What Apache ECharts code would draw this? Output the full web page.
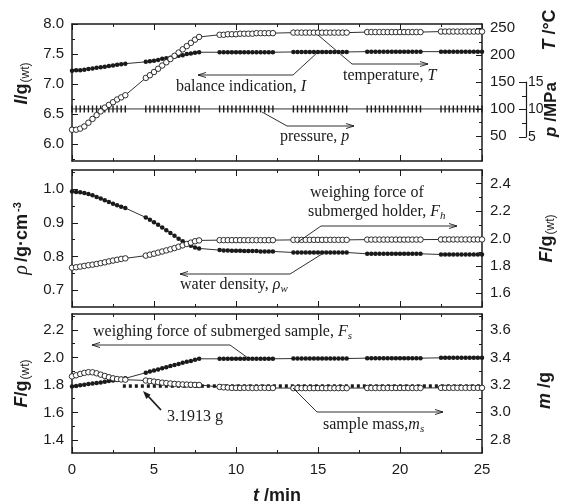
<!DOCTYPE html>
<html>
<head>
<meta charset="utf-8">
<script src="https://cdn.jsdelivr.net/npm/echarts@6.0.0/dist/echarts.min.js"></script>
<style>
html, body { margin: 0; padding: 0; background: #fff; }
#chart { width: 565px; height: 504px; }
</style>
</head>
<body>
<div id="chart"></div>
<script>
// sampling times (min), readings come in bursts with gaps between them
const times = [
  0, 0.25, 0.5, 0.75, 1, 1.25, 1.5, 1.75, 2, 2.25, 2.5, 2.75, 3, 3.25,
  4.5, 4.75, 5, 5.25, 5.5, 5.75, 6, 6.25, 6.5, 6.75, 7, 7.25, 7.5, 7.75,
  9, 9.25, 9.5, 9.75, 10, 10.25, 10.5, 10.75, 11, 11.25, 11.5, 11.75, 12, 12.25,
  13.5, 13.75, 14, 14.25, 14.5, 14.75, 15, 15.25, 15.5, 15.75, 16, 16.25, 16.5, 16.75,
  18, 18.25, 18.5, 18.75, 19, 19.25, 19.5, 19.75, 20, 20.25, 20.5, 20.75, 21, 21.25,
  22.5, 22.75, 23, 23.25, 23.5, 23.75, 24, 24.25, 24.5, 24.75, 25
]
// top panel
const balanceI = [
  7.22, 7.23, 7.23, 7.24, 7.25, 7.26, 7.27, 7.28, 7.29, 7.30, 7.31, 7.32, 7.33, 7.34,
  7.37, 7.38, 7.39, 7.40, 7.42, 7.43, 7.44, 7.46, 7.47, 7.48, 7.50, 7.51, 7.52, 7.53,
  7.53, 7.53, 7.53, 7.53, 7.53, 7.53, 7.53, 7.53, 7.53, 7.53, 7.53, 7.53, 7.53, 7.53,
  7.535, 7.535, 7.535, 7.535, 7.535, 7.535, 7.535, 7.535, 7.535, 7.535, 7.535, 7.535, 7.535, 7.535,
  7.54, 7.54, 7.54, 7.54, 7.54, 7.54, 7.54, 7.54, 7.54, 7.54, 7.54, 7.54, 7.54, 7.54,
  7.54, 7.54, 7.54, 7.54, 7.54, 7.54, 7.54, 7.54, 7.54, 7.54, 7.54
]
const temperatureT = [
  62, 62, 64, 68, 75, 82, 89, 96, 103, 108, 113, 118, 122, 126,
  158, 163, 169, 175, 181, 187, 193, 199, 205, 211, 217, 223, 229, 234,
  238, 238, 239, 239, 239, 240, 240, 240, 240, 241, 241, 241, 241, 241,
  242, 242, 242, 242, 242, 242, 242, 242, 242, 242, 242, 242, 242, 242,
  243, 243, 243, 243, 243, 243, 243, 243, 243, 243, 243, 243, 243, 243,
  244, 244, 244, 244, 244, 244, 244, 244, 244, 244, 244
]
const pressureP = [
  10.1, 10.1, 10.1, 10.1, 10.1, 10.1, 10.1, 10.1, 10.1, 10.1, 10.1, 10.1, 10.1, 10.1,
  10.1, 10.1, 10.1, 10.1, 10.1, 10.1, 10.1, 10.1, 10.1, 10.1, 10.1, 10.1, 10.1, 10.1,
  10.1, 10.1, 10.1, 10.1, 10.1, 10.1, 10.1, 10.1, 10.1, 10.1, 10.1, 10.1, 10.1, 10.1,
  10.1, 10.1, 10.1, 10.1, 10.1, 10.1, 10.1, 10.1, 10.1, 10.1, 10.1, 10.1, 10.1, 10.1,
  10.1, 10.1, 10.1, 10.1, 10.1, 10.1, 10.1, 10.1, 10.1, 10.1, 10.1, 10.1, 10.1, 10.1,
  10.1, 10.1, 10.1, 10.1, 10.1, 10.1, 10.1, 10.1, 10.1, 10.1, 10.1
]
// middle panel
const densityRho = [
  0.993, 0.992, 0.991, 0.989, 0.986, 0.982, 0.977, 0.972, 0.967, 0.962, 0.957, 0.952, 0.948, 0.944,
  0.916, 0.909, 0.902, 0.894, 0.886, 0.878, 0.870, 0.862, 0.853, 0.845, 0.838, 0.832, 0.827, 0.824,
  0.819, 0.818, 0.818, 0.817, 0.817, 0.817, 0.816, 0.816, 0.816, 0.816, 0.815, 0.815, 0.815, 0.815,
  0.812, 0.812, 0.812, 0.812, 0.812, 0.812, 0.812, 0.812, 0.812, 0.812, 0.812, 0.812, 0.812, 0.812,
  0.808, 0.808, 0.808, 0.808, 0.808, 0.808, 0.808, 0.808, 0.808, 0.808, 0.808, 0.808, 0.808, 0.808,
  0.806, 0.806, 0.806, 0.806, 0.806, 0.806, 0.806, 0.806, 0.806, 0.806, 0.806
]
const holderFh = [
  1.787, 1.790, 1.795, 1.800, 1.805, 1.809, 1.814, 1.820, 1.826, 1.833, 1.839, 1.845, 1.851, 1.855,
  1.875, 1.882, 1.889, 1.897, 1.905, 1.913, 1.921, 1.930, 1.940, 1.950, 1.960, 1.970, 1.980, 1.986,
  1.988, 1.988, 1.988, 1.988, 1.988, 1.988, 1.988, 1.988, 1.988, 1.988, 1.988, 1.988, 1.988, 1.988,
  1.990, 1.990, 1.990, 1.990, 1.990, 1.990, 1.990, 1.990, 1.990, 1.990, 1.990, 1.990, 1.990, 1.990,
  1.992, 1.992, 1.992, 1.992, 1.992, 1.992, 1.992, 1.992, 1.992, 1.992, 1.992, 1.992, 1.992, 1.992,
  1.993, 1.993, 1.993, 1.993, 1.993, 1.993, 1.993, 1.993, 1.993, 1.993, 1.993
]
// bottom panel
const sampleFs = [
  1.788, 1.792, 1.797, 1.802, 1.806, 1.810, 1.814, 1.818, 1.823, 1.828, 1.833, 1.838, 1.843, 1.848,
  1.889, 1.897, 1.905, 1.913, 1.921, 1.929, 1.937, 1.945, 1.953, 1.961, 1.968, 1.975, 1.983, 1.990,
  1.990, 1.990, 1.990, 1.990, 1.990, 1.990, 1.990, 1.990, 1.990, 1.990, 1.990, 1.990, 1.990, 1.990,
  1.992, 1.992, 1.992, 1.992, 1.992, 1.992, 1.992, 1.992, 1.992, 1.992, 1.992, 1.992, 1.992, 1.992,
  1.995, 1.995, 1.995, 1.995, 1.995, 1.995, 1.995, 1.995, 1.995, 1.995, 1.995, 1.995, 1.995, 1.995,
  1.997, 1.997, 1.997, 1.997, 1.997, 1.997, 1.997, 1.997, 1.997, 1.997, 1.997
]
const sampleMs = [
  3.262, 3.270, 3.280, 3.288, 3.293, 3.292, 3.285, 3.275, 3.265, 3.256, 3.248, 3.243, 3.240, 3.238,
  3.232, 3.228, 3.224, 3.220, 3.216, 3.213, 3.210, 3.207, 3.205, 3.203, 3.202, 3.201, 3.200, 3.199,
  3.185, 3.182, 3.180, 3.178, 3.178, 3.177, 3.178, 3.178, 3.177, 3.177, 3.178, 3.178, 3.177, 3.177,
  3.176, 3.176, 3.176, 3.176, 3.176, 3.176, 3.176, 3.176, 3.176, 3.176, 3.176, 3.176, 3.176, 3.176,
  3.177, 3.177, 3.177, 3.177, 3.177, 3.177, 3.177, 3.177, 3.177, 3.177, 3.177, 3.177, 3.177, 3.177,
  3.178, 3.178, 3.178, 3.178, 3.178, 3.178, 3.178, 3.178, 3.178, 3.178, 3.178
]
const refTimes = [3.1, 25]
const refMass = [3.1913, 3.1913]

// tick values
const iTicks = [6.0, 6.5, 7.0, 7.5, 8.0]
const iMinor = [5.75, 6.25, 6.75, 7.25, 7.75]
const tTicks = [50, 100, 150, 200, 250]
const tMinor = [25, 75, 125, 175, 225]
const rhoTicks = [0.7, 0.8, 0.9, 1.0]
const rhoMinor = [0.75, 0.85, 0.95, 1.05]
const fhTicks = [1.6, 1.8, 2.0, 2.2, 2.4]
const fhMinor = [1.7, 1.9, 2.1, 2.3]
const fsTicks = [1.4, 1.6, 1.8, 2.0, 2.2]
const fsMinor = [1.5, 1.7, 1.9, 2.1, 2.3]
const mTicks = [2.8, 3.0, 3.2, 3.4, 3.6]
const mMinor = [2.9, 3.1, 3.3, 3.5, 3.7]

const ink = '#1a1a1a'
const sans = 'Liberation Sans, Arial, sans-serif'
const serif = 'Liberation Serif, Times New Roman, serif'
const L = 72
const R = 83
const panels = [
  { top: 24, height: 137 },
  { top: 170, height: 137 },
  { top: 314, height: 139 }
]

const pts = (xs, ys) => xs.map((x, i) => [x, ys[i]])

function xAx(grid, position, opts) {
  return Object.assign({
    type: 'value', gridIndex: grid, position, min: 0, max: 25, interval: 5,
    axisLine: { show: true, onZero: false, lineStyle: { color: ink, width: 1.5 } },
    axisTick: { inside: true, length: 6, lineStyle: { color: ink, width: 1 } },
    minorTick: { show: true, splitNumber: 2, length: 3, lineStyle: { color: ink, width: 1 } },
    axisLabel: { show: false },
    splitLine: { show: false }
  }, opts || {})
}

function yAx(grid, position, min, max, ticks, digits, opts) {
  return Object.assign({
    type: 'value', gridIndex: grid, position, min, max,
    axisLine: { show: true, onZero: false, lineStyle: { color: ink, width: 1.5 } },
    axisTick: { inside: true, length: 6, customValues: ticks, lineStyle: { color: ink, width: 1 } },
    axisLabel: {
      customValues: ticks, margin: 8, fontSize: 15, fontFamily: sans, color: ink,
      formatter: v => Number(v).toFixed(digits)
    },
    splitLine: { show: false }
  }, opts || {})
}

function yMinor(grid, position, min, max, ticks) {
  return {
    type: 'value', gridIndex: grid, position, min, max,
    axisLine: { show: false },
    axisTick: { inside: true, length: 3, customValues: ticks, lineStyle: { color: ink, width: 1 } },
    axisLabel: { show: false },
    splitLine: { show: false }
  }
}

const titleRich = {
  bi: { fontFamily: sans, fontSize: 18, fontWeight: 'bold', fontStyle: 'italic', color: ink },
  b: { fontFamily: sans, fontSize: 18, fontWeight: 'bold', color: ink },
  sub: { fontFamily: sans, fontSize: 12, color: ink, padding: [7, 0, 0, 1] },
  sup: { fontFamily: sans, fontSize: 11, fontWeight: 'bold', color: ink, padding: [0, 0, 8, 2] },
  g: { fontFamily: serif, fontSize: 20, fontStyle: 'italic', color: ink }
}

function filled(name, xi, yi, data) {
  return {
    name, type: 'line', xAxisIndex: xi, yAxisIndex: yi, data,
    symbol: 'circle', symbolSize: 4.5,
    itemStyle: { color: ink },
    lineStyle: { color: ink, width: 0.9 },
    animation: false, z: 3
  }
}
function hollow(name, xi, yi, data) {
  return {
    name, type: 'line', xAxisIndex: xi, yAxisIndex: yi, data,
    symbol: 'circle', symbolSize: 5.5,
    itemStyle: { color: '#fff', borderColor: ink, borderWidth: 0.9 },
    lineStyle: { color: ink, width: 0.9 },
    animation: false, z: 4
  }
}

// annotation helpers
const noteRich = {
  n: { fontFamily: serif, fontSize: 16, fill: ink },
  i: { fontFamily: serif, fontSize: 16, fontStyle: 'italic', fill: ink },
  s: { fontFamily: serif, fontSize: 11, fontStyle: 'italic', fill: ink, padding: [9, 0, 0, 0] }
}
function note(x, y, text) {
  return {
    type: 'text', x, y, z: 50,
    style: { text, fontFamily: serif, fontSize: 16, fill: ink, verticalAlign: 'middle', rich: noteRich }
  }
}
function line(points, w) {
  return { type: 'polyline', z: 50, shape: { points }, style: { stroke: ink, lineWidth: w || 0.9, fill: null } }
}
const headL = (x, y) => line([[x + 8, y - 2.5], [x, y], [x + 8, y + 2.5]])
const headR = (x, y) => line([[x - 8, y - 2.5], [x, y], [x - 8, y + 2.5]])

const graphics = [
  note(176, 87, '{n|balance indication,}{i| I}'),
  line([[318, 52], [293, 75], [198, 75]]), headL(198, 75),
  note(343, 76, '{n|temperature, }{i|T}'),
  line([[318, 35], [352, 64], [428, 64]]), headR(428, 64),
  note(280, 137, '{n|pressure, }{i|p}'),
  line([[262, 112], [287, 126], [354, 126]]), headR(354, 126),
  note(310, 193, '{n|weighing force of}'),
  note(308, 212, '{n|submerged holder, }{i|F}{s|h}'),
  line([[298, 242], [321, 226], [457, 226]]), headR(457, 226),
  note(180, 285, '{n|water density, }{i|ρ}{s|w}'),
  line([[322, 254], [290, 274], [180, 274]]), headL(180, 274),
  note(93, 332, '{n|weighing force of submerged sample, }{i|F}{s|s}'),
  line([[248, 358], [230, 345], [92, 345]]), headL(92, 345),
  note(167, 417, '{n|3.1913 g}'),
  line([[161, 410], [147, 395]], 1.8),
  { type: 'polygon', z: 50, shape: { points: [[143, 391], [150.7, 394.7], [146.3, 398.9]] }, style: { fill: ink } },
  note(323, 425, '{n|sample mass,}{i|m}{s|s}'),
  line([[293, 388], [317, 412], [443, 412]]), headR(443, 412),
  {
    type: 'text', x: 550, y: 30, rotation: Math.PI / 2, z: 50,
    style: {
      text: '{bi|T}{b| /°C}', align: 'center', verticalAlign: 'middle',
      rich: {
        bi: { fontFamily: sans, fontSize: 18, fontWeight: 'bold', fontStyle: 'italic', fill: ink },
        b: { fontFamily: sans, fontSize: 18, fontWeight: 'bold', fill: ink }
      }
    }
  }
]

const grids = panels.map(p => ({ left: L, right: R, top: p.top, height: p.height, outerBoundsMode: 'none' }))
grids.push({ left: L, right: R, top: 82, height: 55, outerBoundsMode: 'none' }) // 3: pressure scale
panels.forEach(p => grids.push({ left: L, right: R, top: p.top, height: p.height, outerBoundsMode: 'none' })) // 4-6: minor ticks

const option = {
  backgroundColor: '#fff',
  animation: false,
  grid: grids,
  xAxis: [
    xAx(0, 'bottom'), xAx(0, 'top'),
    xAx(1, 'bottom'), xAx(1, 'top'),
    xAx(2, 'bottom', {
      axisLabel: { show: true, margin: 9, fontSize: 15, fontFamily: sans, color: ink },
      name: '{bi|t}{b| /min}', nameLocation: 'middle', nameGap: 34,
      nameTextStyle: { rich: titleRich }
    }),
    xAx(2, 'top'),
    { type: 'value', gridIndex: 3, min: 0, max: 25, show: false },
    { type: 'value', gridIndex: 4, min: 0, max: 25, show: false },
    { type: 'value', gridIndex: 5, min: 0, max: 25, show: false },
    { type: 'value', gridIndex: 6, min: 0, max: 25, show: false }
  ],
  yAxis: [
    yAx(0, 'left', 5.72, 8.0, iTicks, 1, {
      name: '{bi|I}{b|/g}{sub|(wt)}', nameLocation: 'middle', nameGap: 40,
      nameTextStyle: { rich: titleRich, padding: [0, 0, 0, 18] }
    }),
    yAx(0, 'right', 4, 258, tTicks, 0),
    yAx(1, 'left', 0.65, 1.057, rhoTicks, 1, {
      name: '{g|ρ} {b|/g·cm}{sup|-3}', nameLocation: 'middle', nameGap: 38,
      nameTextStyle: { rich: titleRich }
    }),
    yAx(1, 'right', 1.5, 2.5, fhTicks, 1, {
      name: '{bi|F}{b|/g}{sub|(wt)}', nameLocation: 'middle', nameGap: 56,
      nameTextStyle: { rich: titleRich }
    }),
    yAx(2, 'left', 1.305, 2.316, fsTicks, 1, {
      name: '{bi|F}{b|/g}{sub|(wt)}', nameLocation: 'middle', nameGap: 40,
      nameTextStyle: { rich: titleRich }
    }),
    yAx(2, 'right', 2.7, 3.72, mTicks, 1, {
      name: '{bi|m}{b| /g}', nameLocation: 'middle', nameGap: 54,
      nameTextStyle: { rich: titleRich, padding: [0, 14, 0, 0] }
    }),
    {
      type: 'value', gridIndex: 3, position: 'right', offset: 44, min: 5, max: 15, interval: 5,
      axisLine: { show: true, onZero: false, lineStyle: { color: ink, width: 1.2 } },
      axisTick: { inside: true, length: 7, lineStyle: { color: ink, width: 1 } },
      minorTick: { show: true, splitNumber: 2, length: 4, lineStyle: { color: ink, width: 1 } },
      axisLabel: { margin: 2, fontSize: 14, fontFamily: sans, color: ink },
      splitLine: { show: false },
      name: '{bi|p}{b| /MPa}', nameLocation: 'middle', nameGap: 17, nameMoveOverlap: false,
      nameTextStyle: {
        rich: {
          bi: { fontFamily: sans, fontSize: 17, fontWeight: 'bold', fontStyle: 'italic', color: ink },
          b: { fontFamily: sans, fontSize: 17, fontWeight: 'bold', color: ink }
        }
      }
    },
    yMinor(4, 'left', 5.72, 8.0, iMinor),
    yMinor(4, 'right', 4, 258, tMinor),
    yMinor(5, 'left', 0.65, 1.057, rhoMinor),
    yMinor(5, 'right', 1.5, 2.5, fhMinor),
    yMinor(6, 'left', 1.305, 2.316, fsMinor),
    yMinor(6, 'right', 2.7, 3.72, mMinor)
  ],
  series: [
    filled('balance indication', 0, 0, pts(times, balanceI)),
    hollow('temperature', 0, 1, pts(times, temperatureT)),
    {
      name: 'pressure', type: 'line', xAxisIndex: 6, yAxisIndex: 6, data: pts(times, pressureP),
      symbol: 'rect', symbolSize: [1.4, 7],
      itemStyle: { color: ink }, lineStyle: { color: ink, width: 0.9 }, animation: false
    },
    filled('water density', 2, 2, pts(times, densityRho)),
    hollow('holder force', 2, 3, pts(times, holderFh)),
    {
      name: '3.1913 g', type: 'line', xAxisIndex: 4, yAxisIndex: 5, data: pts(refTimes, refMass),
      symbol: 'none', lineStyle: { color: ink, width: 3.5, type: [3, 3] }, animation: false, z: 2
    },
    filled('sample force', 4, 4, pts(times, sampleFs)),
    hollow('sample mass', 4, 5, pts(times, sampleMs))
  ],
  graphic: graphics
}

const chart = echarts.init(document.getElementById('chart'), null, { renderer: 'canvas' })
chart.setOption(option)
window.addEventListener('resize', chart.resize)
</script>
</body>
</html>
